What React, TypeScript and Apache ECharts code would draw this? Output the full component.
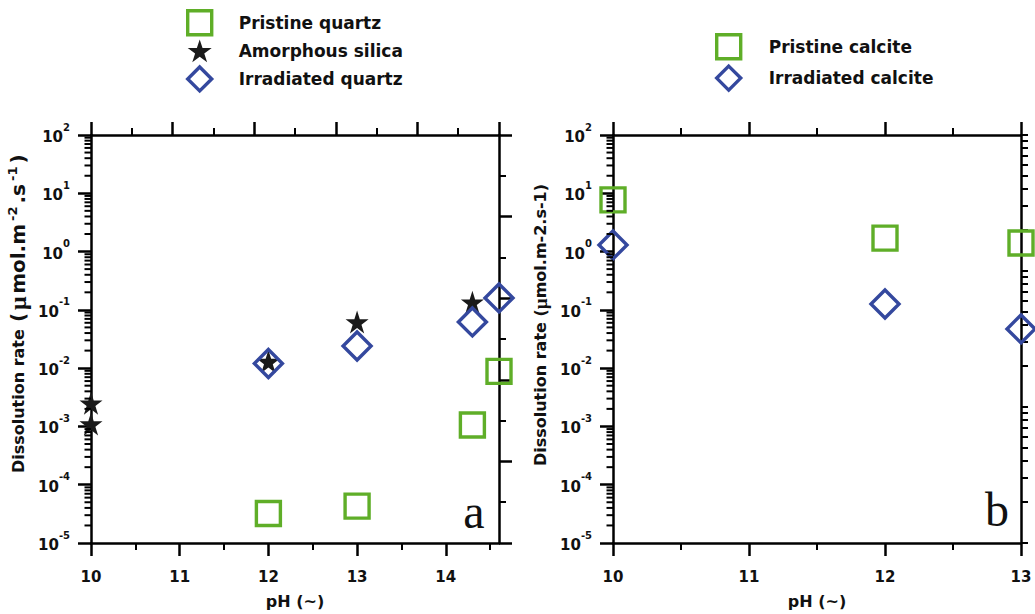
import React, { useEffect, useRef } from "react";
import * as echarts from "echarts";

// ---------- data ----------
const pristineQuartz: number[][] = [
  [12, 3.2e-5],
  [13, 4.3e-5],
  [14.3, 1.06e-3],
  [14.6, 8.8e-3],
];
const amorphousSilica: number[][] = [
  [10, 2.5e-3],
  [10, 1.1e-3],
  [12, 1.3e-2],
  [13, 6.2e-2],
  [14.3, 0.135],
];
const irradiatedQuartz: number[][] = [
  [12, 1.2e-2],
  [13, 2.4e-2],
  [14.3, 0.062],
  [14.6, 0.16],
];
const pristineCalcite: number[][] = [
  [10, 7.7],
  [12, 1.7],
  [13, 1.4],
];
const irradiatedCalcite: number[][] = [
  [10, 1.3],
  [12, 0.126],
  [13, 0.047],
];

const phTicksA = [10, 11, 12, 13, 14];
const phMinorA = [10.5, 11.5, 12.5, 13.5, 14.5];
const phTicksB = [10, 11, 12, 13];
const phMinorB = [10.5, 11.5, 12.5];
const decades = [1e-5, 1e-4, 1e-3, 1e-2, 1e-1, 1, 10, 100];
const mirrorMajor = [0, 2, 4, 6, 8, 10];
const mirrorMinor = [1, 3, 5, 7, 9];
const rightDecades = [1, 10, 100, 1000];
const logMultipliers = [2, 3, 4, 5, 6, 7, 8, 9];

// minor tick values of a log axis (2..9 x each decade)
const minorLog = (ds: number[]) => {
  const out: number[] = [];
  for (let i = 0; i < ds.length - 1; i++) {
    for (const m of logMultipliers) out.push(+(ds[i] * m).toPrecision(3));
  }
  return out;
};
const minorLogExp = (ds: number[]) => minorLog(ds).map((v) => Math.round(Math.log10(v) * 1e6) / 1e6);

// ---------- style ----------
const FONT = "'DejaVu Sans', 'Liberation Sans', sans-serif";
const GREEN = "#5fae28";
const BLUE = "#34489e";
const STARC = "#1a1a1a";
const INK = "#111";
const STAR =
  "path://M100,0 L122.5,69.1 L195.1,69.1 L136.3,111.8 L158.8,180.9 L100,138.2 L41.2,180.9 L63.7,111.8 L4.9,69.1 L77.5,69.1 Z";

const axisLineStyle = { color: "#000", width: 2.5 };
const majorTick = (vals: number[], len = 13) => ({
  show: true,
  inside: false,
  length: len,
  customValues: vals,
  lineStyle: { color: "#000", width: 2.5 },
});
const minorTick = (vals: number[], len = 7, w = 2) => ({
  show: true,
  inside: false,
  length: len,
  customValues: vals,
  lineStyle: { color: "#000", width: w },
});
const noSplit = { show: false };

const tickLabel = {
  fontFamily: FONT,
  fontWeight: "bold" as const,
  fontSize: 15,
  color: INK,
};

const logLabel = (vals: number[]) => ({
  show: true,
  customValues: vals,
  margin: 21,
  formatter: (v: number) => `{b|10}{s|${Math.round(Math.log10(v))}}`,
  rich: {
    b: { fontFamily: FONT, fontWeight: "bold", fontSize: 15, color: INK, lineHeight: 26, padding: [4, 0, 0, 0] },
    s: { fontFamily: FONT, fontWeight: "bold", fontSize: 10, color: INK, lineHeight: 12, verticalAlign: "top" },
  },
});

const xNameStyle = {
  fontFamily: FONT,
  fontWeight: "bold" as const,
  fontSize: 16,
  color: INK,
};

function xMain(grid: number, min: number, max: number, ticks: number[]) {
  return {
    gridIndex: grid,
    type: "value",
    position: "bottom",
    min,
    max,
    axisLine: { show: true, onZero: false, lineStyle: axisLineStyle },
    axisTick: majorTick(ticks),
    axisLabel: { ...tickLabel, customValues: ticks, margin: 26 },
    splitLine: noSplit,
    name: "pH (~)",
    nameLocation: "middle",
    nameGap: 50,
    nameTextStyle: xNameStyle,
  };
}
function xMinor(grid: number, min: number, max: number, ticks: number[], pos: string) {
  return {
    gridIndex: grid,
    type: "value",
    position: pos,
    min,
    max,
    axisLine: { show: false, onZero: false },
    axisTick: minorTick(ticks),
    axisLabel: { show: false },
    splitLine: noSplit,
  };
}
function xTop(grid: number, min: number, max: number, ticks: number[]) {
  return {
    gridIndex: grid,
    type: "value",
    position: "top",
    min,
    max,
    axisLine: { show: true, onZero: false, lineStyle: axisLineStyle },
    axisTick: majorTick(ticks),
    axisLabel: { show: false },
    splitLine: noSplit,
  };
}

function yMain(grid: number, name: string, rich: any, padLeft: number) {
  return {
    gridIndex: grid,
    type: "log",
    logBase: 10,
    position: "left",
    min: 1e-5,
    max: 100,
    axisLine: { show: true, onZero: false, lineStyle: axisLineStyle },
    axisTick: majorTick(decades),
    axisLabel: logLabel(decades),
    splitLine: noSplit,
    minorSplitLine: noSplit,
    name,
    nameLocation: "middle",
    nameRotate: 90,
    nameGap: 61,
    nameTextStyle: {
      fontFamily: FONT,
      fontWeight: "bold",
      fontSize: 16,
      color: INK,
      padding: [0, 0, 0, padLeft],
      rich,
    },
  };
}

const titleRichA = {
  t: { fontFamily: FONT, fontWeight: "bold", fontSize: 16, color: INK, lineHeight: 24 },
  p: { fontFamily: FONT, fontWeight: "bold", fontSize: 20, color: INK, lineHeight: 24, padding: [0, 1.5, 0, 1.5] },
  mu: { fontFamily: "'Liberation Serif', serif", fontSize: 24, color: INK, lineHeight: 24, padding: [0, 1, 0, 1.5] },
  s: { fontFamily: FONT, fontWeight: "bold", fontSize: 13, color: INK, lineHeight: 12, verticalAlign: "top", padding: [0, 1.5, 0, 1.5] },
};
const titleA = "{t|Dissolution rate }{p|(}{mu|μ}{p|mol.m}{s|-2}{p|.s}{s|-1}{p|)}";
const titleRichB = {
  t: { fontFamily: FONT, fontWeight: "bold", fontSize: 16, color: INK, lineHeight: 24 },
  mu: { fontFamily: "'Liberation Serif', serif", fontSize: 19, color: INK, lineHeight: 24 },
};
const titleB = "{t|Dissolution rate (}{mu|µ}{t|mol.m-2.s-1)}";

// short minor tick marks on the left log axis, placed through the axis scale
function minorTickSeries(xAxisIndex: number, yAxisIndex: number, xAt: number) {
  return {
    type: "custom",
    xAxisIndex,
    yAxisIndex,
    clip: false,
    silent: true,
    z: 10,
    data: minorLog(decades).map((v) => [xAt, v]),
    renderItem: (_params: any, api: any) => {
      const p = api.coord([api.value(0), api.value(1)]);
      return {
        type: "line",
        shape: { x1: p[0] - 6.5, y1: p[1], x2: p[0], y2: p[1] },
        style: { stroke: "#000", lineWidth: 2 },
      };
    },
  };
}

export default function App() {
  const ref = useRef<HTMLDivElement>(null);

  useEffect(() => {
    if (!ref.current) return;
    const chart = echarts.init(ref.current, null, { renderer: "svg" });

    const hollow = (c: string, symbol: string, size: number) => ({
      symbol,
      symbolSize: size,
      itemStyle: { color: "rgba(0,0,0,0)", borderColor: c, borderWidth: 3.4, opacity: 1 },
    });

    const option: any = {
      animation: false,
      backgroundColor: "#fff",
      grid: [
        { left: 91, top: 135, width: 408, height: 408, containLabel: false, outerBoundsMode: "none" },
        { left: 613, top: 135, width: 408, height: 408, containLabel: false, outerBoundsMode: "none" },
      ],
      xAxis: [
        xMain(0, 10, 14.6, phTicksA),
        xMinor(0, 10, 14.6, phMinorA, "bottom"),
        xTop(0, 0, 10, mirrorMajor),
        xMinor(0, 0, 10, mirrorMinor, "top"),
        xMain(1, 10, 13, phTicksB),
        xMinor(1, 10, 13, phMinorB, "bottom"),
        xTop(1, 10, 13, phTicksB),
        xMinor(1, 10, 13, phMinorB, "top"),
      ],
      yAxis: [
        yMain(0, titleA, titleRichA, 52),
        {
          gridIndex: 0,
          type: "value",
          position: "right",
          min: 0,
          max: 10,
          axisLine: { show: true, onZero: false, lineStyle: axisLineStyle },
          axisTick: majorTick(mirrorMajor),
          axisLabel: { show: false },
          splitLine: noSplit,
        },
        {
          gridIndex: 0,
          type: "value",
          position: "right",
          min: 0,
          max: 10,
          axisLine: { show: false, onZero: false },
          axisTick: minorTick(mirrorMinor),
          axisLabel: { show: false },
          splitLine: noSplit,
        },
        yMain(1, titleB, titleRichB, 28),
        {
          gridIndex: 1,
          type: "value",
          position: "right",
          min: 0,
          max: 3,
          axisLine: { show: true, onZero: false, lineStyle: axisLineStyle },
          axisTick: minorTick(
            [...rightDecades.map((d) => Math.log10(d)), ...minorLogExp(rightDecades)],
            7,
            2
          ),
          axisLabel: { show: false },
          splitLine: noSplit,
        },
      ],
      legend: [
        {
          orient: "vertical",
          left: 186,
          top: 9,
          padding: 0,
          itemWidth: 24,
          itemHeight: 24,
          itemGap: 3,
          selectedMode: false,
          itemStyle: { borderWidth: 3.4, opacity: 1 },
          textStyle: { fontFamily: FONT, fontWeight: "bold", fontSize: 17, color: INK, padding: [0, 0, 0, 22] },
          data: [
            { name: "Pristine quartz" },
            { name: "Amorphous silica", itemStyle: { borderWidth: 0 } },
            { name: "Irradiated quartz" },
          ],
        },
        {
          orient: "vertical",
          left: 715,
          top: 33,
          padding: 0,
          itemWidth: 24,
          itemHeight: 24,
          itemGap: 4,
          selectedMode: false,
          itemStyle: { borderWidth: 3.4, opacity: 1 },
          textStyle: { fontFamily: FONT, fontWeight: "bold", fontSize: 17, color: INK, padding: [0, 0, 0, 23] },
          data: [{ name: "Pristine calcite" }, { name: "Irradiated calcite" }],
        },
      ],
      series: [
        minorTickSeries(0, 0, 10),
        minorTickSeries(4, 3, 10),
        {
          type: "scatter",
          name: "Pristine quartz",
          xAxisIndex: 0,
          yAxisIndex: 0,
          clip: false,
          z: 3,
          data: pristineQuartz,
          ...hollow(GREEN, "rect", 24),
        },
        {
          type: "scatter",
          name: "Amorphous silica",
          xAxisIndex: 0,
          yAxisIndex: 0,
          clip: false,
          z: 3,
          data: amorphousSilica,
          symbol: STAR,
          symbolSize: 23,
          itemStyle: { color: STARC, borderWidth: 0, opacity: 1 },
        },
        {
          type: "scatter",
          name: "Irradiated quartz",
          xAxisIndex: 0,
          yAxisIndex: 0,
          clip: false,
          z: 3,
          data: irradiatedQuartz,
          ...hollow(BLUE, "diamond", 28),
        },
        {
          type: "scatter",
          name: "Pristine calcite",
          xAxisIndex: 4,
          yAxisIndex: 3,
          clip: false,
          z: 3,
          data: pristineCalcite,
          ...hollow(GREEN, "rect", 24),
        },
        {
          type: "scatter",
          name: "Irradiated calcite",
          xAxisIndex: 4,
          yAxisIndex: 3,
          clip: false,
          z: 3,
          data: irradiatedCalcite,
          ...hollow(BLUE, "diamond", 28),
        },
      ],
      graphic: [
        {
          type: "text",
          x: 474,
          y: 511,
          style: {
            text: "a",
            font: "48px 'Liberation Serif', serif",
            fill: INK,
            textAlign: "center",
            textVerticalAlign: "middle",
          },
        },
        {
          type: "text",
          x: 997,
          y: 509,
          style: {
            text: "b",
            font: "48px 'Liberation Serif', serif",
            fill: INK,
            textAlign: "center",
            textVerticalAlign: "middle",
          },
        },
      ],
    };

    chart.setOption(option);
    return () => chart.dispose();
  }, []);

  return (
    <div
      ref={ref}
      style={{ position: "fixed", left: 0, top: 0, width: 1035, height: 614, background: "#fff" }}
    />
  );
}
